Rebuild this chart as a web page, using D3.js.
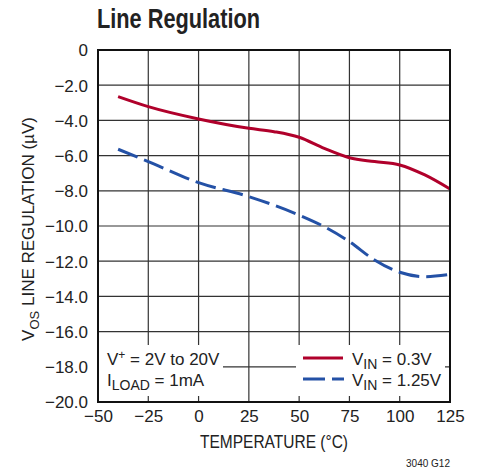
<!DOCTYPE html>
<html><head><meta charset="utf-8">
<script src="https://cdn.jsdelivr.net/npm/d3@7"></script>
<style>
body{margin:0;background:#fff;}
text{font-family:"Liberation Sans Narrow","Liberation Sans",Arial,sans-serif;fill:#222;}
</style></head>
<body><svg id="c" width="478" height="474"></svg>
<script>
const temps = [-40, -25, 0, 25, 37.5, 50, 62.5, 75, 87.5, 100, 112.5, 125];
const vin03 = [-2.65, -3.22, -3.92, -4.45, -4.64, -4.96, -5.59, -6.12, -6.34, -6.53, -7.1, -7.9];
const tempsB = [-40, -25, 0, 25, 50, 62.5, 75, 87.5, 100, 112.5, 125];
const vin125 = [-5.64, -6.34, -7.54, -8.33, -9.38, -10.04, -10.89, -11.93, -12.63, -12.88, -12.75];
const xTicks = [-50, -25, 0, 25, 50, 75, 100, 125];
const yTicks = [0, -2, -4, -6, -8, -10, -12, -14, -16, -18, -20];
const legendLabels = ["0.3V", "1.25V"];

const svg = d3.select("#c");
const L = 98, R = 450, T = 50, B = 402;
const x = d3.scaleLinear().domain([-50, 125]).range([L, R]);
const y = d3.scaleLinear().domain([0, -20]).range([T, B]);

// grid
const g = svg.append("g");
g.selectAll(".vg").data(xTicks.slice(1, -1)).enter().append("line")
  .attr("x1", d => x(d)).attr("x2", d => x(d)).attr("y1", T).attr("y2", B)
  .attr("stroke", "#333").attr("stroke-width", 1.2);
g.selectAll(".hg").data(yTicks.slice(1, -1)).enter().append("line")
  .attr("y1", d => y(d)).attr("y2", d => y(d)).attr("x1", L).attr("x2", R)
  .attr("stroke", "#333").attr("stroke-width", 1.2);

// axes labels via d3 axes
const fmtY = d => d === 0 ? "0" : "\u2212" + Math.abs(d).toFixed(1);
const fmtX = d => d < 0 ? "\u2212" + Math.abs(d) : String(d);
const ya = svg.append("g").attr("transform", `translate(${L},0)`)
  .call(d3.axisLeft(y).tickValues(yTicks).tickFormat(fmtY).tickSize(0).tickPadding(10));
const xa = svg.append("g").attr("transform", `translate(0,${B})`)
  .call(d3.axisBottom(x).tickValues(xTicks).tickFormat(fmtX).tickSize(0).tickPadding(8));
[ya, xa].forEach(a => {
  a.select(".domain").remove();
  a.selectAll("text").style("font-size", "17px").attr("fill", "#222")
    .style("font-family", '"Liberation Sans Narrow","Liberation Sans",sans-serif');
});
ya.selectAll("text").attr("dy", "0.35em");

// legend boxes (white)
svg.append("rect").attr("x", L + 1).attr("y", 345).attr("width", 124).attr("height", 51).attr("fill", "#fff");
svg.append("rect").attr("x", 296).attr("y", 345).attr("width", 149).attr("height", 51).attr("fill", "#fff");

// lines
const line = d3.line().curve(d3.curveMonotoneX);
svg.append("path")
  .attr("d", line(temps.map((t, i) => [x(t), y(vin03[i])])))
  .attr("fill", "none").attr("stroke", "#b0002b").attr("stroke-width", 3);
svg.append("path")
  .attr("d", line(tempsB.map((t, i) => [x(t), y(vin125[i])])))
  .attr("fill", "none").attr("stroke", "#2451a6").attr("stroke-width", 3)
  .attr("stroke-dasharray", "21,7");

// frame
svg.append("rect").attr("x", L).attr("y", T).attr("width", R - L).attr("height", B - T)
  .attr("fill", "none").attr("stroke", "#111").attr("stroke-width", 2);

// title
svg.append("text").attr("x", 97).attr("y", 28).text("Line Regulation")
  .attr("textLength", 163).attr("lengthAdjust", "spacingAndGlyphs")
  .style("font-size", "28px").style("font-weight", "bold").attr("fill", "#111");

// axis titles
svg.append("text").attr("x", 200).attr("y", 448)
  .attr("textLength", 148).attr("lengthAdjust", "spacingAndGlyphs")
  .style("font-size", "18px").text("TEMPERATURE (\u00B0C)");
const yt = svg.append("text").attr("transform", "translate(34,229) rotate(-90)")
  .attr("text-anchor", "middle").style("font-size", "17px");
yt.append("tspan").text("V");
yt.append("tspan").attr("dy", 5).style("font-size", "13px").text("OS");
yt.append("tspan").attr("dy", -5).text(" LINE REGULATION (\u00B5V)");

// legend left text
const t1 = svg.append("text").attr("x", 107).attr("y", 365).style("font-size", "17px");
t1.append("tspan").text("V");
t1.append("tspan").attr("dy", -6).style("font-size", "12px").text("+");
t1.append("tspan").attr("dy", 6).text(" = 2V to 20V");
const t2 = svg.append("text").attr("x", 107).attr("y", 386).style("font-size", "17px");
t2.append("tspan").text("I");
t2.append("tspan").attr("dy", 4).style("font-size", "14px").text("LOAD");
t2.append("tspan").attr("dy", -4).text(" = 1mA");

// legend right
svg.append("line").attr("x1", 303).attr("x2", 343).attr("y1", 358).attr("y2", 358)
  .attr("stroke", "#b0002b").attr("stroke-width", 3);
svg.append("line").attr("x1", 303).attr("x2", 344).attr("y1", 379).attr("y2", 379)
  .attr("stroke", "#2451a6").attr("stroke-width", 3).attr("stroke-dasharray", "22,7");
legendLabels.forEach((lab, i) => {
  const t = svg.append("text").attr("x", 352).attr("y", 365 + i * 21).style("font-size", "17px");
  t.append("tspan").text("V");
  t.append("tspan").attr("dy", 4).style("font-size", "14px").text("IN");
  t.append("tspan").attr("dy", -4).text(" = " + lab);
});

// note
svg.append("text").attr("x", 450).attr("y", 467).attr("text-anchor", "end")
  .style("font-size", "10px").text("3040 G12");
</script></body></html>
